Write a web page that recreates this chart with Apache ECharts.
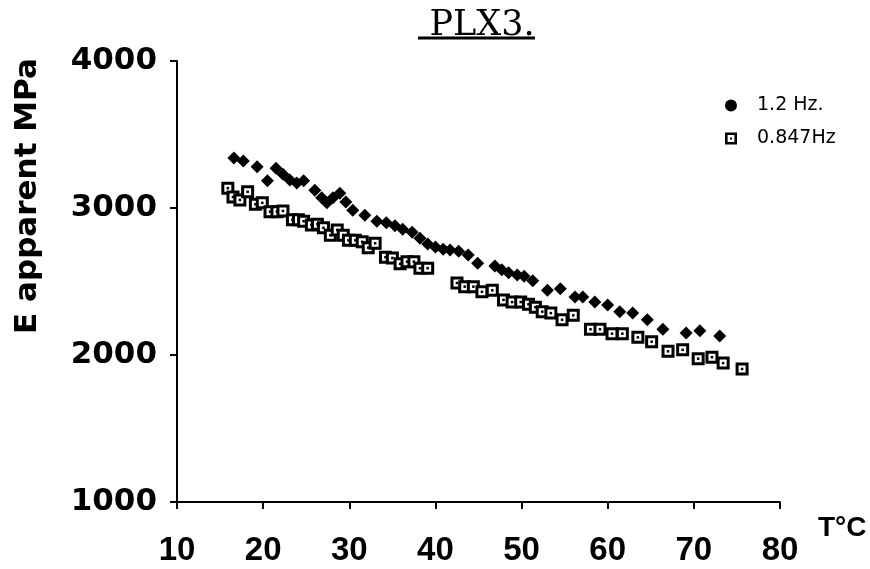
<!DOCTYPE html>
<html>
<head>
<meta charset="utf-8">
<script src="https://cdn.jsdelivr.net/npm/echarts@6/dist/echarts.min.js"></script>
<style>
html,body{margin:0;padding:0;background:#fff;}
#chart{width:870px;height:569px;}
</style>
</head>
<body>
<div id="chart"></div>
<script>
// ---- data ----
const titleText = 'PLX3.';
const seriesNames = ['1.2 Hz.', '0.847Hz'];
const xTicks = [10, 20, 30, 40, 50, 60, 70, 80];
const yTicks = [1000, 2000, 3000, 4000];

const temp12 = [16.6,17.7,19.3,20.5,21.5,22.3,23.1,23.9,24.7,26.0,26.8,27.4,28.1,28.9,29.6,30.4,31.8,33.2,34.3,35.3,36.2,37.3,38.2,39.1,40.0,40.9,41.7,42.7,43.8,44.9,46.9,47.7,48.5,49.5,50.3,51.3,53.0,54.5,56.2,57.1,58.5,60.0,61.4,62.9,64.6,66.4,69.1,70.7,73.0];
const e12 = [3340,3320,3280,3185,3270,3230,3190,3170,3185,3120,3070,3035,3070,3100,3040,2985,2950,2910,2900,2880,2855,2835,2795,2755,2735,2720,2715,2705,2680,2625,2605,2580,2560,2545,2535,2505,2440,2450,2395,2395,2360,2340,2295,2285,2240,2175,2150,2165,2130];

const temp0847 = [15.9,16.5,17.3,18.2,19.1,19.9,20.8,21.6,22.3,23.4,24.1,24.7,25.6,26.3,27.0,27.8,28.6,29.3,29.9,30.7,31.5,32.2,33.0,34.2,35.0,35.9,36.7,37.5,38.2,39.1,42.5,43.4,44.4,45.4,46.6,47.9,48.9,49.9,50.8,51.6,52.4,53.4,54.7,56.0,58.0,59.1,60.5,61.7,63.5,65.1,67.0,68.7,70.5,72.1,73.4,75.6];
const e0847 = [3135,3075,3055,3110,3025,3035,2975,2975,2980,2920,2920,2910,2885,2890,2865,2815,2850,2815,2780,2780,2770,2730,2760,2665,2660,2620,2635,2635,2590,2590,2490,2465,2465,2430,2440,2375,2360,2360,2345,2325,2295,2285,2240,2270,2175,2175,2145,2145,2120,2090,2025,2035,1975,1985,1945,1905];

const zip = (a, b) => a.map((v, i) => [v, b[i]]);
const data12 = zip(temp12, e12);
const data0847 = zip(temp0847, e0847);

const chart = echarts.init(document.getElementById('chart'), null, {renderer: 'canvas'});
const ringDot = 'path://M0,0H12V12H0Z M2.6,2.6V9.4H9.4V2.6Z M5,5H7V7H5Z';
const xFont = "'Liberation Sans', Arial, sans-serif";

chart.setOption({
  backgroundColor: '#fff',
  animation: false,
  title: {
    text: titleText,
    left: 477, textAlign: 'center', top: 3,
    textStyle: {fontFamily: "'DejaVu Serif', 'Liberation Serif', serif", fontSize: 35, fontWeight: 'normal', color: '#000'}
  },
  graphic: [
    {type: 'line', shape: {x1: 418, y1: 38, x2: 535, y2: 38}, style: {stroke: '#000', lineWidth: 3}},
    {type: 'text', x: 28, y: 196, rotation: Math.PI / 2,
     style: {text: 'E apparent MPa', fill: '#000', font: "bold 31px 'DejaVu Sans', sans-serif", textAlign: 'center', textVerticalAlign: 'middle'}}
  ],
  legend: {
    orient: 'vertical', left: 720, top: 91,
    itemWidth: 12, itemHeight: 12, itemGap: 14,
    textStyle: {fontFamily: "'DejaVu Sans', sans-serif", fontSize: 19, color: '#000', padding: [0, 0, 0, 15]},
    data: [
      {name: seriesNames[0], icon: 'circle', itemStyle: {color: '#000', opacity: 1}},
      {name: seriesNames[1], icon: ringDot, itemStyle: {color: '#000', borderWidth: 0, opacity: 1}}
    ]
  },
  grid: {left: 177, right: 90, top: 61, bottom: 67, containLabel: false, outerBoundsMode: 'none'},
  xAxis: {
    type: 'value', min: xTicks[0], max: xTicks[xTicks.length - 1], interval: 10,
    name: 'T°C', nameLocation: 'end', nameGap: 38,
    nameTextStyle: {fontFamily: xFont, fontWeight: 'bold', fontSize: 28, color: '#000', verticalAlign: 'top', padding: [12, 0, 0, 0]},
    axisLine: {show: true, lineStyle: {color: '#000', width: 2}},
    axisTick: {show: true, inside: false, length: 7, lineStyle: {color: '#000', width: 2}},
    axisLabel: {margin: 32, color: '#000', fontFamily: xFont, fontWeight: 'bold', fontSize: 33},
    splitLine: {show: false}
  },
  yAxis: {
    type: 'value', min: yTicks[0], max: yTicks[yTicks.length - 1], interval: 1000,
    axisLine: {show: true, lineStyle: {color: '#000', width: 2}},
    axisTick: {show: true, inside: false, length: 7, lineStyle: {color: '#000', width: 2}},
    axisLabel: {margin: 20, color: '#000', fontFamily: "'DejaVu Sans', sans-serif", fontWeight: 'bold', fontSize: 31, formatter: v => String(v)},
    splitLine: {show: false}
  },
  series: [
    {
      name: seriesNames[0], type: 'scatter', data: data12,
      symbol: 'diamond', symbolSize: 13,
      itemStyle: {color: '#000', opacity: 1}, z: 3
    },
    {
      name: seriesNames[1], type: 'scatter', data: data0847,
      symbol: 'rect', symbolSize: 10,
      itemStyle: {color: '#fff', borderColor: '#000', borderWidth: 3, opacity: 1}, z: 2
    },
    {
      name: 'dots', type: 'scatter', data: data0847,
      symbol: 'rect', symbolSize: 2.5, silent: true,
      itemStyle: {color: '#000', opacity: 1}, z: 4
    }
  ]
});
</script>
</body>
</html>
